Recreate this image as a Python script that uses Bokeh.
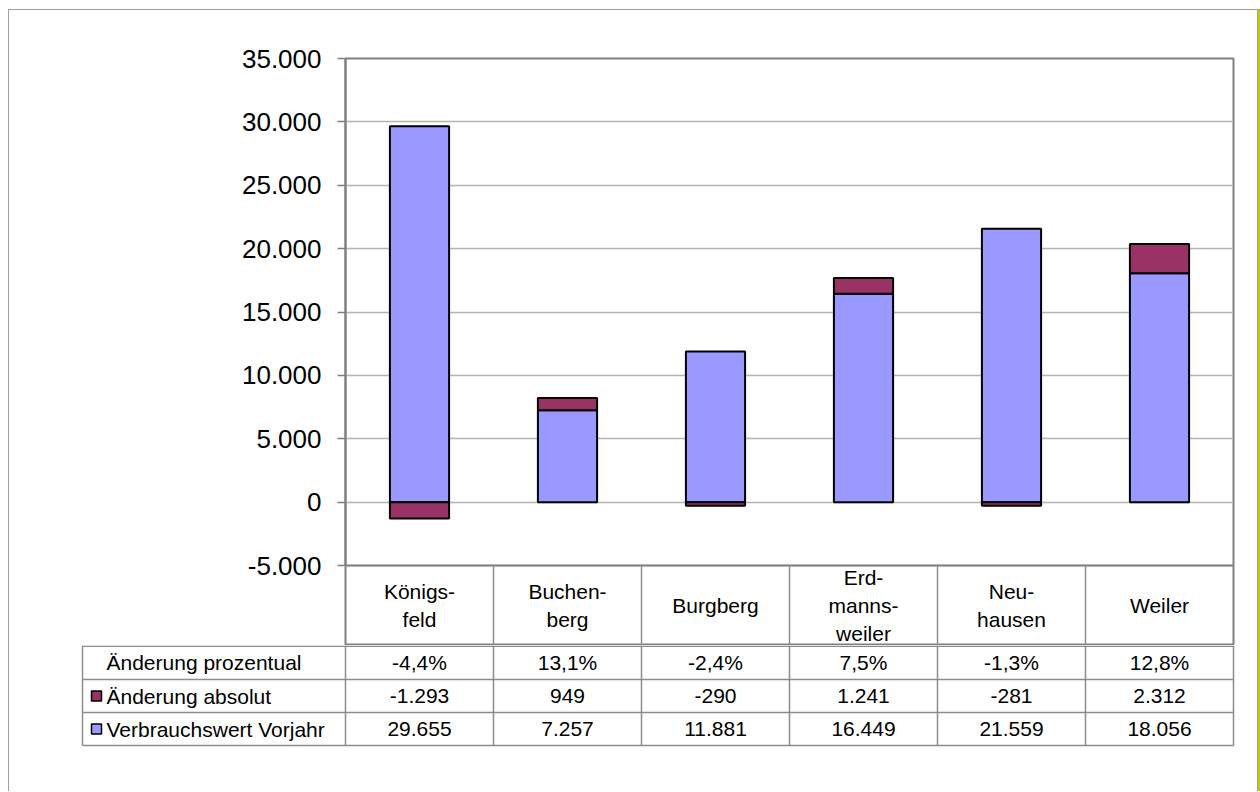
from bokeh.plotting import figure
from bokeh.layouts import column
from bokeh.models import Range1d, FixedTicker
from bokeh.embed import file_html
from bokeh.resources import INLINE
from bokeh.core.properties import value

# ---------------- data ----------------
categories = ["Königs-\nfeld", "Buchen-\nberg", "Burgberg", "Erd-\nmanns-\nweiler", "Neu-\nhausen", "Weiler"]
vorjahr = [29655, 7257, 11881, 16449, 21559, 18056]
aenderung_abs = [-1293, 949, -290, 1241, -281, 2312]
aenderung_pct = [-4.4, 13.1, -2.4, 7.5, -1.3, 12.8]
y_ticks = [-5000, 0, 5000, 10000, 15000, 20000, 25000, 30000, 35000]
row_labels = ["Änderung prozentual", "Änderung absolut", "Verbrauchswert Vorjahr"]

# ---------------- style / layout (page pixels) ----------------
BLUE = "#9999FF"
MAROON = "#993366"
FONT = "Liberation Sans"
GRAY = "#808080"
LINE = "#8c8c8c"
OFF_X, OFF_Y = 9, 10                 # page position of the canvas (css margin + border)
W = 1248
X0, X1, Y0, Y1 = 345, 1233, 58, 565  # plot area
HDR_BOTTOM = 645                     # bottom of the category header row
rows_y = [645, 679, 712, 745]        # table row boundaries
label_left = 82
PAGE_BOTTOM = 791


def de_int(v):
    s = f"{abs(v):,}".replace(",", ".")
    return ("-" if v < 0 else "") + s


def de_pct(v):
    return f"{v:.1f}".replace(".", ",") + "%"


n = len(categories)
xs = [i + 0.5 for i in range(n)]


def yd(py):
    return y_ticks[-1] - (py - Y0) / (Y1 - Y0) * (y_ticks[-1] - y_ticks[0])


# ---------------- chart + category header ----------------
H1 = HDR_BOTTOM - OFF_Y
p = figure(width=W, height=H1, x_range=Range1d(0, n), y_range=Range1d(yd(HDR_BOTTOM), y_ticks[-1]),
           output_backend="svg", toolbar_location=None,
           min_border_left=X0 - OFF_X, min_border_right=OFF_X + W - X1,
           min_border_top=Y0 - OFF_Y, min_border_bottom=0,
           x_axis_location=None)
p.frame_align = False
p.background_fill_color = "white"
p.border_fill_color = "white"
p.outline_line_color = GRAY
p.outline_line_width = 2
p.xgrid.visible = False
p.ygrid.grid_line_color = "#b3b3b3"
p.ygrid.grid_line_width = 1.5

ax = p.yaxis[0]
ax.ticker = FixedTicker(ticks=y_ticks)
ax.bounds = (y_ticks[0], y_ticks[-1])
ax.major_label_overrides = {t: de_int(t) for t in y_ticks}
ax.major_label_text_font = FONT
ax.major_label_text_font_size = "26px"
ax.major_label_text_color = "black"
ax.major_label_standoff = 16
ax.major_tick_out = 8
ax.major_tick_in = 0
ax.minor_tick_out = 0
ax.minor_tick_in = 0
ax.axis_line_color = GRAY
ax.axis_line_width = 2
ax.major_tick_line_color = GRAY
ax.major_tick_line_width = 1.5

red_bottom = [v if a > 0 else 0 for v, a in zip(vorjahr, aenderung_abs)]
red_top = [v + a if a > 0 else a for v, a in zip(vorjahr, aenderung_abs)]

p.vbar(x=xs, width=0.4, bottom=0, top=vorjahr, fill_color=BLUE, line_color="black", line_width=2)
p.vbar(x=xs, width=0.4, bottom=red_bottom, top=red_top, fill_color=MAROON, line_color="black", line_width=2)

# bottom border of the plot area and header separators
p.segment(x0=[0], y0=[y_ticks[0]], x1=[n], y1=[y_ticks[0]], line_color=GRAY, line_width=2)
bx = list(range(1, n))
p.segment(x0=bx, y0=[y_ticks[0]] * len(bx), x1=bx, y1=[yd(HDR_BOTTOM)] * len(bx), line_color=LINE, line_width=1.5)
p.text(x=xs, y=[yd((Y1 + HDR_BOTTOM) / 2)] * n, text=categories, text_align="center", text_baseline="middle",
       text_font=value(FONT), text_font_size="21px", text_color="black", text_line_height=1.2)

# ---------------- table rows ----------------
H2 = PAGE_BOTTOM - HDR_BOTTOM
t = figure(width=W, height=H2, x_range=Range1d(OFF_X, OFF_X + W), y_range=Range1d(HDR_BOTTOM + H2, HDR_BOTTOM),
           output_backend="svg", toolbar_location=None, min_border=0,
           x_axis_location=None, y_axis_location=None)
t.frame_align = False
t.grid.visible = False
t.outline_line_color = None
t.background_fill_color = "white"
t.border_fill_color = "white"

hy = [rows_y[0] + 0.75] + rows_y[1:]
t.segment(x0=[label_left] * len(hy), y0=hy, x1=[X1] * len(hy), y1=hy, line_color=LINE, line_width=1.5)
col_x = [label_left] + [X0 + (X1 - X0) * i / n for i in range(n + 1)]
t.segment(x0=col_x, y0=[rows_y[0]] * len(col_x), x1=col_x, y1=[rows_y[-1]] * len(col_x), line_color=LINE, line_width=1.5)

centers = [X0 + (X1 - X0) * (i + 0.5) / n for i in range(n)]
row_c = [(rows_y[k] + rows_y[k + 1]) / 2 for k in range(3)]
table_rows = [[de_pct(v) for v in aenderung_pct], [de_int(v) for v in aenderung_abs], [de_int(v) for v in vorjahr]]
for k, vals in enumerate(table_rows):
    t.text(x=centers, y=[row_c[k]] * n, text=vals, text_align="center", text_baseline="middle",
           text_font=value(FONT), text_font_size="21px", text_color="black")

t.text(x=[106] * 3, y=row_c, text=row_labels, text_align="left", text_baseline="middle",
       text_font=value(FONT), text_font_size="21px", text_color="black")
t.rect(x=[96, 96], y=row_c[1:], width=10, height=10, fill_color=[MAROON, BLUE], line_color="black", line_width=1.5)

layout = column(p, t, styles={"margin-left": "8px", "margin-top": "9px",
                              "border": "1px solid #a0a0a0", "border-bottom": "none",
                              "box-shadow": "2px 0 0 0 #c8c800", "background": "white"})

open("out.html", "w").write(file_html(layout, INLINE))
